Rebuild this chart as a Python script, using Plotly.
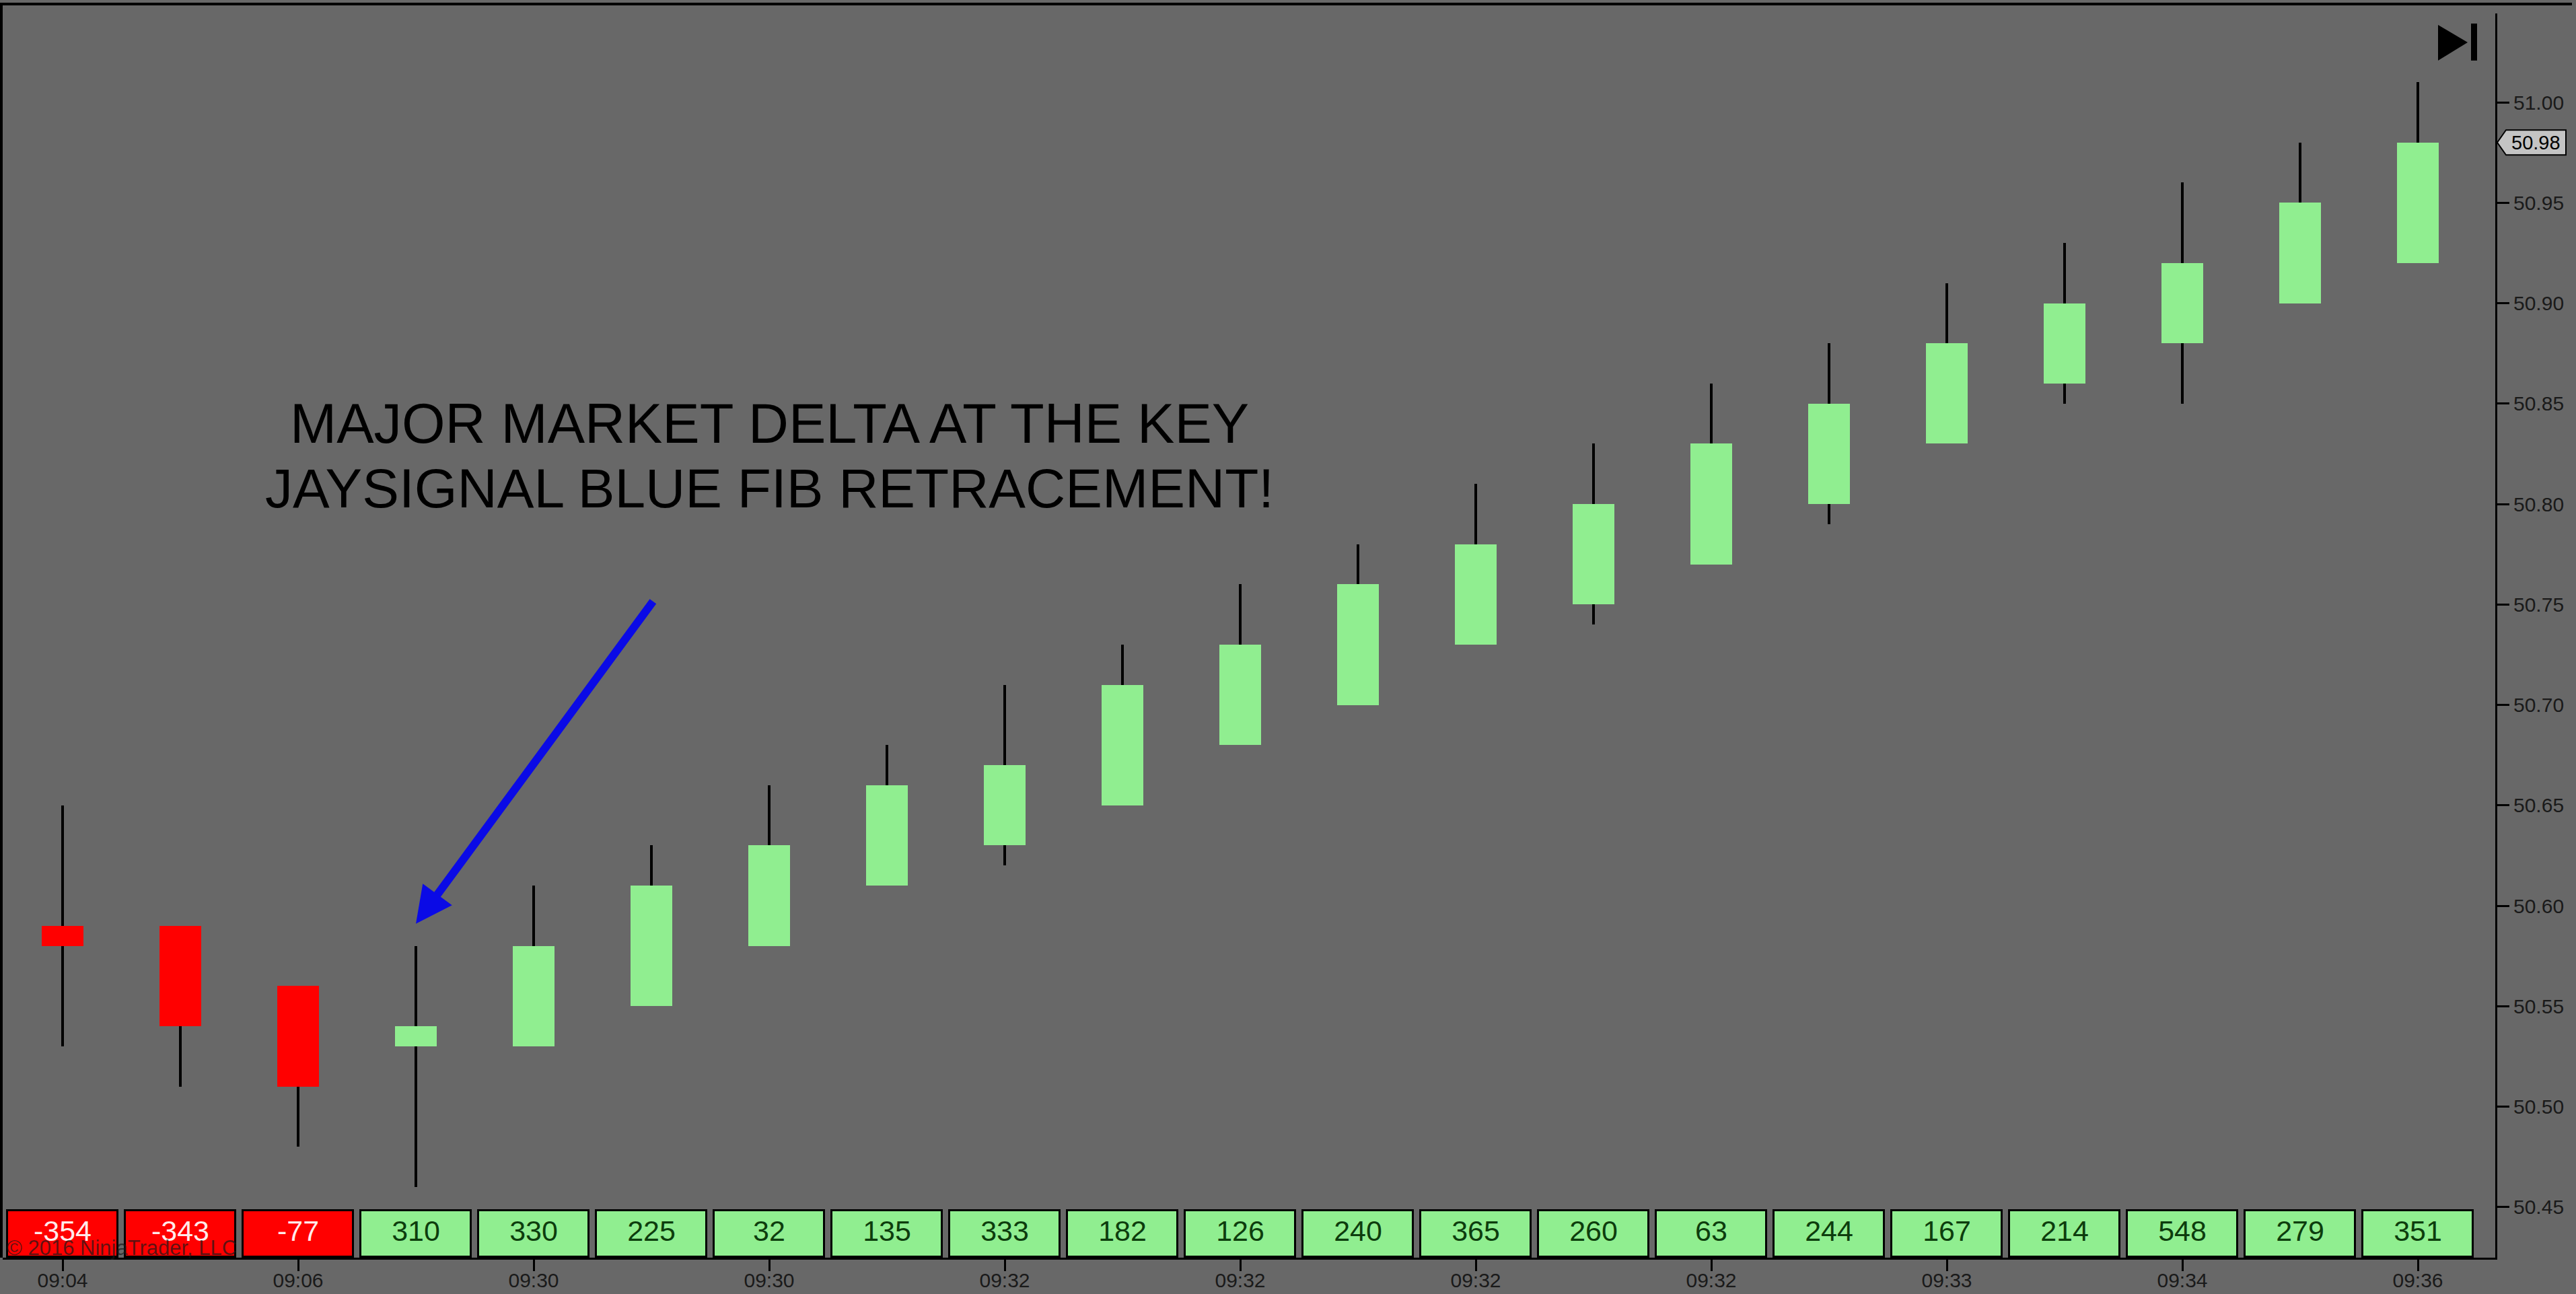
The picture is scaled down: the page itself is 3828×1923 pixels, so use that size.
import plotly.graph_objects as go

# ---- data -------------------------------------------------------------
opens  = [50.59, 50.59, 50.56, 50.53, 50.53, 50.55, 50.58, 50.61, 50.63, 50.65, 50.68,
          50.70, 50.73, 50.75, 50.77, 50.80, 50.83, 50.86, 50.88, 50.90, 50.92]
closes = [50.58, 50.54, 50.51, 50.54, 50.58, 50.61, 50.63, 50.66, 50.67, 50.71, 50.73,
          50.76, 50.78, 50.80, 50.83, 50.85, 50.88, 50.90, 50.92, 50.95, 50.98]
highs  = [50.65, 50.59, 50.56, 50.58, 50.61, 50.63, 50.66, 50.68, 50.71, 50.73, 50.76,
          50.78, 50.81, 50.83, 50.86, 50.88, 50.91, 50.93, 50.96, 50.98, 51.01]
lows   = [50.53, 50.51, 50.48, 50.46, 50.53, 50.55, 50.58, 50.61, 50.62, 50.65, 50.68,
          50.70, 50.73, 50.74, 50.77, 50.79, 50.83, 50.85, 50.85, 50.90, 50.92]
deltas = [-354, -343, -77, 310, 330, 225, 32, 135, 333, 182, 126,
          240, 365, 260, 63, 244, 167, 214, 548, 279, 351]
tick_bars   = [0, 2, 4, 6, 8, 10, 12, 14, 16, 18, 20]
tick_labels = ["09:04", "09:06", "09:30", "09:30", "09:32", "09:32",
               "09:32", "09:32", "09:33", "09:34", "09:36"]
price_ticks = [50.45, 50.50, 50.55, 50.60, 50.65, 50.70, 50.75, 50.80, 50.85, 50.90, 50.95, 51.00]

# ---- styling ----------------------------------------------------------
BG = "#686868"
UP = "#90ee90"
DOWN = "#ff0000"
FONT = "Liberation Sans, Arial"
W, H = 3828, 1923
ML, MR, MT, MB = 4, 120, 20, 54
PW, PH = W - ML - MR, H - MT - MB
BAR_PX = 175.0        # pixel spacing of bars
FIRST_PX = 93.0       # pixel centre of first bar
PX_PER_UNIT = 2985.0  # vertical pixels per price unit
REF_PRICE, REF_PX = 51.00, 152.0


def px_x(px):
    return (px - ML) / PW


def px_y(py):
    return (H - MB - py) / PH


bars = list(range(len(opens)))
body_base = [min(o, c) for o, c in zip(opens, closes)]
body_len = [abs(c - o) for o, c in zip(opens, closes)]
body_col = [UP if c >= o else DOWN for o, c in zip(opens, closes)]

fig = go.Figure()

# wicks (thin bars so the bodies are layered on top of them)
fig.add_trace(go.Bar(x=bars, y=[h - l for h, l in zip(highs, lows)], base=lows,
                     width=0.018, marker=dict(color="black", line=dict(width=0)),
                     showlegend=False, hoverinfo="skip"))
# candle bodies
fig.add_trace(go.Bar(x=bars, y=body_len, base=body_base, width=0.35,
                     marker=dict(color=body_col, line=dict(width=0)),
                     showlegend=False))

# delta boxes along the bottom (own hidden axis)
delta_col = [UP if d >= 0 else DOWN for d in deltas]
delta_txt_col = ["#0d3d0d" if d >= 0 else "#ffeaea" for d in deltas]
fig.add_trace(go.Bar(x=bars, y=[1] * len(deltas), base=[0] * len(deltas), width=0.94,
                     marker=dict(color=delta_col, line=dict(color="black", width=3)),
                     yaxis="y2", showlegend=False, hoverinfo="skip"))
fig.add_trace(go.Scatter(x=bars, y=[0.5] * len(deltas), mode="text",
                         text=[str(d) for d in deltas],
                         textfont=dict(family=FONT, size=43, color=delta_txt_col),
                         textposition="middle center",
                         yaxis="y2", showlegend=False, hoverinfo="skip"))

x_rng = [(ML - FIRST_PX) / BAR_PX, (W - MR - FIRST_PX) / BAR_PX]
y_rng = [REF_PRICE - (H - MB - REF_PX) / PX_PER_UNIT,
         REF_PRICE + (REF_PX - MT) / PX_PER_UNIT]
box_px, box_off = 69.0, 1.0
y2_rng = [-box_off / box_px, (PH - box_off) / box_px]

last = closes[-1]
tag_h = 18.5 / PX_PER_UNIT
shapes = [
    # outer frame: top and left edges
    dict(type="line", xref="paper", yref="paper", x0=px_x(0), x1=px_x(3822),
         y0=px_y(6), y1=px_y(6), line=dict(color="black", width=4)),
    dict(type="line", xref="paper", yref="paper", x0=px_x(2), x1=px_x(2),
         y0=px_y(6), y1=px_y(H - MB), line=dict(color="black", width=4)),
    # "jump to last bar" button
    dict(type="path", xref="paper", yref="paper",
         path=f"M {px_x(3623)},{px_y(37)} L {px_x(3667)},{px_y(63)} L {px_x(3623)},{px_y(90)} Z",
         fillcolor="black", line=dict(width=0)),
    dict(type="rect", xref="paper", yref="paper", x0=px_x(3672), x1=px_x(3681),
         y0=px_y(35), y1=px_y(90), fillcolor="black", line=dict(width=0)),
    # last price tag
    dict(type="path", xref="paper", yref="y",
         path=(f"M {px_x(3711)},{last} L {px_x(3724)},{last + tag_h} "
               f"L {px_x(3813)},{last + tag_h} L {px_x(3813)},{last - tag_h} "
               f"L {px_x(3724)},{last - tag_h} Z"),
         fillcolor="#c4c4c4", line=dict(color="black", width=2)),
]

annotations = [
    dict(x=6, y=50.84, xref="x", yref="y", text="MAJOR MARKET DELTA AT THE KEY",
         showarrow=False, font=dict(family=FONT, size=83, color="black"),
         xanchor="center", yanchor="middle"),
    dict(x=6, y=50.808, xref="x", yref="y", text="JAYSIGNAL BLUE FIB RETRACEMENT!",
         showarrow=False, font=dict(family=FONT, size=82, color="black"),
         xanchor="center", yanchor="middle"),
    # pointer to the signal bar
    dict(x=3.0, y=50.591, ax=5.02, ay=50.752, xref="x", yref="y", axref="x", ayref="y",
         text="", showarrow=True, arrowhead=2, arrowsize=0.9, arrowwidth=12,
         arrowcolor="#0a0ae6"),
    dict(x=px_x(3768), y=last, xref="paper", yref="y", text=f"{last:.2f}",
         showarrow=False, font=dict(family=FONT, size=29, color="black"),
         xanchor="center", yanchor="middle"),
    dict(x=px_x(8), y=px_y(1854), xref="paper", yref="paper",
         text="© 2016 NinjaTrader, LLC", showarrow=False,
         font=dict(family=FONT, size=31, color="rgba(25,25,25,0.7)"),
         xanchor="left", yanchor="middle"),
]

fig.update_layout(
    width=W, height=H,
    margin=dict(l=ML, r=MR, t=MT, b=MB, pad=0),
    paper_bgcolor=BG, plot_bgcolor=BG,
    bargap=0, barmode="overlay",
    xaxis=dict(range=x_rng, tickmode="array", tickvals=tick_bars, ticktext=tick_labels,
               automargin=False, ticklabelstandoff=-12,
               showgrid=False, zeroline=False, showline=True, linecolor="black", linewidth=3,
               ticks="outside", ticklen=17, tickwidth=3, tickcolor="black",
               tickfont=dict(family=FONT, size=30, color="#1a1a1a")),
    yaxis=dict(range=y_rng, side="right", tickmode="array", tickvals=price_ticks,
               ticktext=[f"{v:.2f}" for v in price_ticks], automargin=False,
               showgrid=False, zeroline=False, showline=True, linecolor="black", linewidth=3,
               ticks="outside", ticklen=18, tickwidth=3, tickcolor="black",
               tickfont=dict(family=FONT, size=30, color="#1a1a1a")),
    yaxis2=dict(range=y2_rng, overlaying="y", visible=False, fixedrange=True),
    shapes=shapes,
    annotations=annotations,
    showlegend=False,
)

fig.write_html("out.html")
